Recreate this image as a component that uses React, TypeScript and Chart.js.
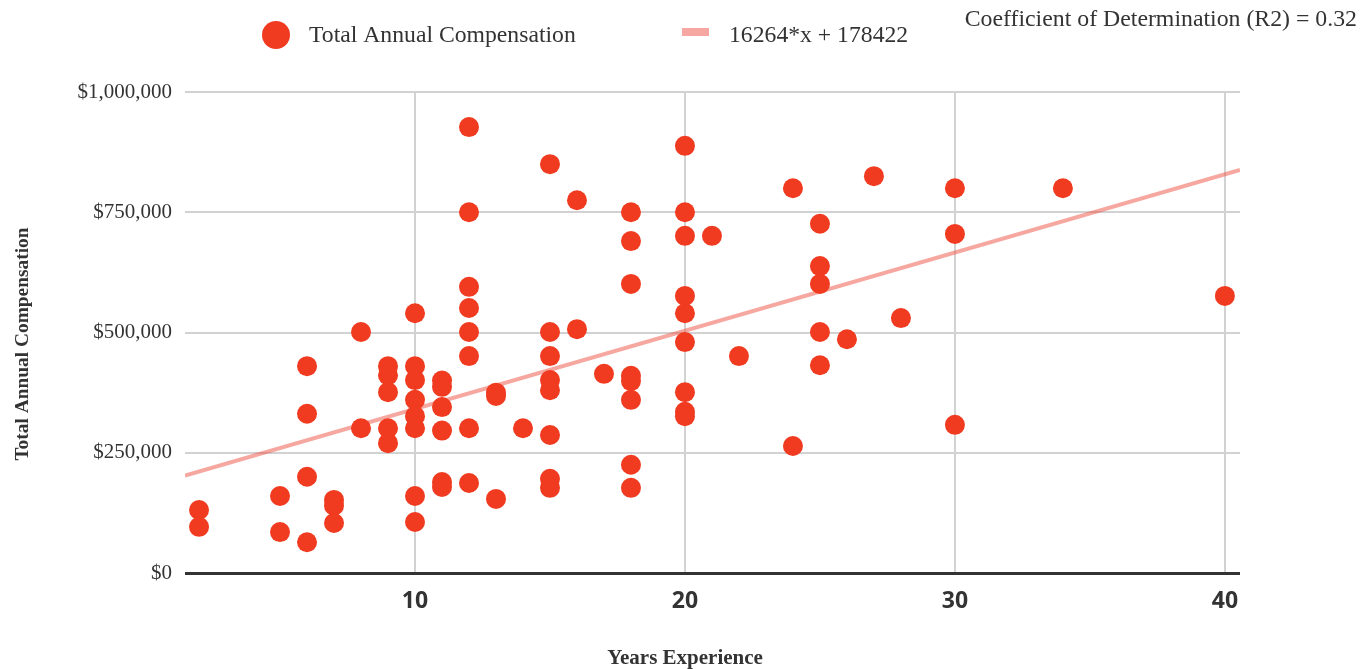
import { useEffect, useRef } from "react";
import { Chart, registerables } from "chart.js";

Chart.register(...registerables);

// ---- Data ----
const experienceYears: number[] = [
  2, 2,
  5, 5,
  6, 6, 6, 6,
  7, 7, 7,
  8, 8,
  9, 9, 9, 9, 9,
  10, 10, 10, 10, 10, 10, 10, 10,
  11, 11, 11, 11, 11, 11,
  12, 12, 12, 12, 12, 12, 12, 12,
  13, 13, 13,
  14,
  15, 15, 15, 15, 15, 15, 15, 15,
  16, 16,
  17,
  18, 18, 18, 18, 18, 18, 18, 18,
  20, 20, 20, 20, 20, 20, 20, 20, 20,
  21,
  22,
  24, 24,
  25, 25, 25, 25, 25,
  26,
  27,
  28,
  30, 30, 30,
  34,
  40,
];

const compensation: number[] = [
  131000, 96000,
  160000, 85000,
  430000, 331000, 200000, 64000,
  152000, 140000, 104000,
  501000, 301000,
  430000, 411000, 376000, 301000, 270000,
  540000, 430000, 401000, 360000, 326000, 301000, 160000, 106000,
  400000, 387000, 345000, 296000, 189000, 179000,
  927000, 750000, 595000, 551000, 501000, 451000, 301000, 187000,
  375000, 368000, 154000,
  301000,
  850000, 501000, 451000, 401000, 380000, 287000, 196000, 177000,
  775000, 507000,
  414000,
  750000, 690000, 601000, 410000, 399000, 360000, 225000, 177000,
  888000, 750000, 701000, 576000, 540000, 480000, 376000, 335000, 326000,
  701000,
  451000,
  800000, 264000,
  726000, 638000, 601000, 501000, 432000,
  486000,
  825000,
  530000,
  800000, 705000, 308000,
  800000,
  576000,
];

const xTickValues: number[] = [10, 20, 30, 40];
const yTickValues: number[] = [0, 250000, 500000, 750000, 1000000];

const trendSlope = 16264;
const trendIntercept = 178422;
const xAxisMin = 1.48;
const xAxisMax = 40.56;

const seriesLabel = "Total Annual Compensation";
const trendLabel = "16264*x + 178422";
const r2Label = "Coefficient of Determination (R2) = 0.32";
const xAxisTitle = "Years Experience";
const yAxisTitle = "Total Annual Compensation";

// ---- Styles ----
const POINT_COLOR = "#f03b20";
const TREND_COLOR = "rgba(238, 80, 65, 0.5)";
const LEGEND_TREND_COLOR = "#f6a7a1";
const TEXT_COLOR = "#333333";
const GRID_COLOR = "#d2d2d2";
const SERIF = '"Liberation Serif", "Times New Roman", serif';

const overlayPlugin = {
  id: "overlayTexts",
  afterDraw(chart: any) {
    const ctx: CanvasRenderingContext2D = chart.ctx;
    ctx.save();
    // legend: series
    ctx.beginPath();
    ctx.arc(276, 35, 14, 0, Math.PI * 2);
    ctx.fillStyle = POINT_COLOR;
    ctx.fill();
    ctx.fillStyle = TEXT_COLOR;
    ctx.font = `23.7px ${SERIF}`;
    ctx.textAlign = "left";
    ctx.textBaseline = "alphabetic";
    ctx.fillText(seriesLabel, 309, 42);
    // legend: trend
    ctx.fillStyle = LEGEND_TREND_COLOR;
    ctx.fillRect(682, 28, 27, 8);
    ctx.fillStyle = TEXT_COLOR;
    ctx.fillText(trendLabel, 729, 42);
    // R2
    ctx.textAlign = "right";
    ctx.font = `23.8px ${SERIF}`;
    ctx.fillText(r2Label, 1357, 26);
    // axis titles
    ctx.font = `bold 21px ${SERIF}`;
    ctx.textAlign = "center";
    ctx.textBaseline = "middle";
    ctx.fillText(xAxisTitle, 685, 659);
    ctx.font = `bold 19.4px ${SERIF}`;
    ctx.translate(23, 344);
    ctx.rotate(-Math.PI / 2);
    ctx.fillText(yAxisTitle, 0, 0);
    ctx.restore();
  },
};

export default function App() {
  const canvasRef = useRef<HTMLCanvasElement | null>(null);

  useEffect(() => {
    if (!canvasRef.current) return;
    const points = experienceYears.map((x, i) => ({ x, y: compensation[i] }));
    const trend = [xAxisMin, xAxisMax].map((x) => ({ x, y: trendSlope * x + trendIntercept }));

    const chart = new Chart(canvasRef.current, {
      type: "scatter",
      data: {
        datasets: [
          {
            label: seriesLabel,
            data: points,
            backgroundColor: POINT_COLOR,
            borderColor: POINT_COLOR,
            borderWidth: 0,
            pointRadius: 10,
            pointHoverRadius: 10,
            order: 0,
          },
          {
            label: trendLabel,
            data: trend,
            showLine: true,
            borderColor: TREND_COLOR,
            borderWidth: 4,
            pointRadius: 0,
            pointHoverRadius: 0,
            fill: false,
            order: 1,
          } as any,
        ],
      },
      options: {
        animation: false,
        responsive: true,
        maintainAspectRatio: false,
        layout: { padding: { top: 92, right: 122, bottom: 46, left: 0 } },
        plugins: {
          legend: { display: false },
          tooltip: { enabled: false },
          title: { display: false },
        },
        scales: {
          x: {
            type: "linear",
            min: xAxisMin,
            max: xAxisMax,
            afterBuildTicks: (axis: any) => {
              axis.ticks = xTickValues.map((v) => ({ value: v }));
            },
            afterFit: (scale: any) => {
              scale.height = 50;
            },
            grid: {
              color: GRID_COLOR,
              lineWidth: 2,
              drawTicks: false,
            },
            border: { display: false },
            ticks: {
              padding: 15,
              color: TEXT_COLOR,
              font: { family: '"Open Sans", sans-serif', size: 23, weight: "bold" },
            },
          },
          y: {
            type: "linear",
            min: 0,
            max: 1000000,
            afterBuildTicks: (axis: any) => {
              axis.ticks = yTickValues.map((v) => ({ value: v }));
            },
            afterFit: (scale: any) => {
              scale.width = 185;
            },
            grid: {
              color: (c: any) => (c.tick && c.tick.value === 0 ? "#333333" : GRID_COLOR),
              lineWidth: (c: any) => (c.tick && c.tick.value === 0 ? 3 : 2),
              drawTicks: false,
            },
            border: { display: false },
            ticks: {
              padding: 13,
              color: TEXT_COLOR,
              font: { family: SERIF, size: 21 },
              callback: (v: any) => "$" + Number(v).toLocaleString("en-US"),
            },
          },
        },
      },
      plugins: [overlayPlugin],
    });
    return () => chart.destroy();
  }, []);

  return (
    <div style={{ position: "fixed", left: 0, top: 0, width: 1362, height: 669, background: "#fff" }}>
      <canvas ref={canvasRef} />
    </div>
  );
}
